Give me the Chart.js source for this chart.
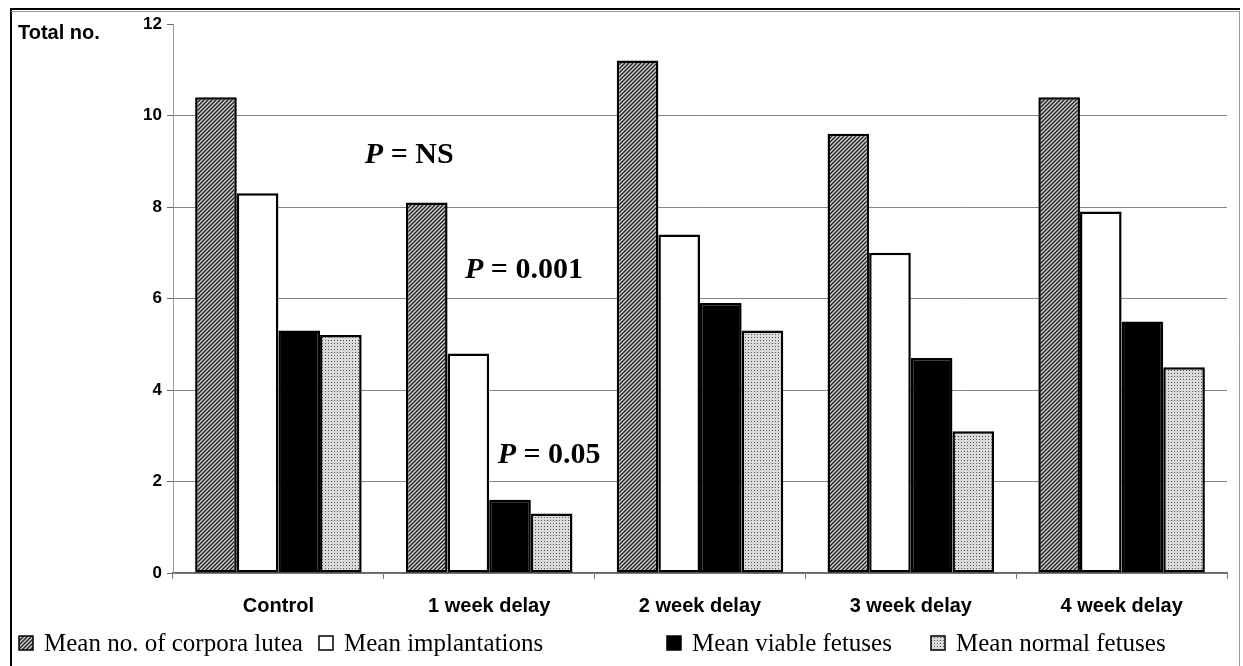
<!DOCTYPE html>
<html lang="en">
<head>
    <meta charset="UTF-8">
    <script src="https://cdn.jsdelivr.net/npm/chart.js@4.4.0/dist/chart.umd.min.js"></script>
    <title>Total no. per delay group</title>
    <style type="text/css">
        body { margin: 0; background: #fff; }
    </style>
</head>
<body>
    <canvas id="barCanvas" width="1243" height="666"></canvas>
</body>
<script>

// data
const categories = ['Control', '1 week delay', '2 week delay', '3 week delay', '4 week delay'];
const seriesLabels = ['Mean no. of corpora lutea', 'Mean implantations', 'Mean viable fetuses', 'Mean normal fetuses'];
const corporaLutea = [10.4, 8.1, 11.2, 9.6, 10.4];
const implantations = [8.3, 4.8, 7.4, 7.0, 7.9];
const viableFetuses = [5.3, 1.6, 5.9, 4.7, 5.5];
const normalFetuses = [5.2, 1.3, 5.3, 3.1, 4.5];
const yMin = 0, yMax = 12, yStep = 2;
const yTitle = 'Total no.';
const pValues = ['NS', '0.001', '0.05'];

const SANS = '"Liberation Sans", Arial, sans-serif';
const SERIF = '"Liberation Serif", "Times New Roman", serif';

function makeHatch() {
    const c = document.createElement('canvas');
    c.width = 4; c.height = 4;
    const g = c.getContext('2d');
    g.fillStyle = '#d0d0d0';
    g.fillRect(0, 0, 4, 4);
    g.strokeStyle = '#222';
    g.lineWidth = 1.4;
    g.beginPath();
    g.moveTo(0, 4); g.lineTo(4, 0);
    g.moveTo(-1, 1); g.lineTo(1, -1);
    g.moveTo(3, 5); g.lineTo(5, 3);
    g.stroke();
    return g.createPattern(c, 'repeat');
}

function makeDots() {
    const c = document.createElement('canvas');
    c.width = 3; c.height = 3;
    const g = c.getContext('2d');
    g.fillStyle = '#dadada';
    g.fillRect(0, 0, 3, 3);
    g.fillStyle = '#555';
    g.fillRect(1, 1, 1, 1);
    return g.createPattern(c, 'repeat');
}

const fills = [makeHatch(), '#ffffff', '#000000', makeDots()];
const seriesData = [corporaLutea, implantations, viableFetuses, normalFetuses];

// frame, y title, P labels and the legend row
const decorPlugin = {
    id: 'decor',
    beforeDraw(chart) {
        const ctx = chart.ctx;
        ctx.save();
        ctx.fillStyle = '#fff';
        ctx.fillRect(0, 0, chart.width, chart.height);
        ctx.strokeStyle = '#000';
        ctx.lineWidth = 2;
        ctx.beginPath();
        ctx.moveTo(11, 666); ctx.lineTo(11, 9); ctx.lineTo(1240, 9);
        ctx.stroke();
        ctx.strokeStyle = '#999';
        ctx.lineWidth = 1;
        ctx.beginPath();
        ctx.moveTo(11, 11.5); ctx.lineTo(1239, 11.5);
        ctx.moveTo(1239.5, 11); ctx.lineTo(1239.5, 666);
        ctx.stroke();
        ctx.restore();
    },
    afterDraw(chart) {
        const ctx = chart.ctx;
        const x = chart.scales.x, y = chart.scales.y;
        ctx.save();
        ctx.fillStyle = '#000';
        ctx.textBaseline = 'middle';
        ctx.font = 'bold 20px ' + SANS;
        ctx.fillText(yTitle, 18, 33);

        // P labels, placed in category / value units
        const spots = [[0.41, 9.14], [0.885, 6.62], [1.04, 2.58]];
        pValues.forEach((v, i) => {
            let px = x.getPixelForValue(spots[i][0]);
            const py = y.getPixelForValue(spots[i][1]);
            ctx.font = 'italic bold 30px ' + SERIF;
            ctx.fillText('P', px, py);
            px += ctx.measureText('P').width;
            ctx.font = 'bold 30px ' + SERIF;
            ctx.fillText(' = ' + v, px, py);
        });

        // legend
        const boxX = [19, 319, 667, 931];
        const ly = 643;
        chart.data.datasets.forEach((ds, i) => {
            ctx.fillStyle = ds.backgroundColor;
            ctx.fillRect(boxX[i], ly - 7, 14, 14);
            ctx.strokeStyle = '#000';
            ctx.lineWidth = 1.5;
            ctx.strokeRect(boxX[i], ly - 7, 14, 14);
            ctx.fillStyle = '#000';
            ctx.font = '25px ' + SERIF;
            ctx.fillText(ds.label, boxX[i] + 25, ly + 1);
        });
        ctx.restore();
    }
};

const chart = new Chart(document.getElementById('barCanvas'), {
    type: 'bar',
    data: {
        labels: categories,
        datasets: seriesLabels.map((lab, i) => ({
            label: lab,
            data: seriesData[i],
            backgroundColor: fills[i],
            borderColor: '#000',
            borderWidth: 2.5,
            borderSkipped: false,
            categoryPercentage: 0.79,
            barPercentage: 1.0
        }))
    },
    options: {
        responsive: false,
        animation: false,
        layout: { padding: { left: 0, right: 16, top: 24, bottom: 0 } },
        plugins: {
            legend: { display: false },
            tooltip: { enabled: false }
        },
        scales: {
            x: {
                grid: {
                    offset: true,
                    drawOnChartArea: false,
                    tickLength: 6,
                    tickColor: '#777'
                },
                border: { color: '#666', width: 1.5 },
                ticks: {
                    color: '#000',
                    padding: 15,
                    font: { family: SANS, size: 20, weight: 'bold' }
                },
                afterFit(s) { s.height = 93; }
            },
            y: {
                min: yMin,
                max: yMax,
                grid: {
                    color: c => (c.tick && c.tick.value === yMax) ? 'rgba(0,0,0,0)' : '#848484',
                    lineWidth: 1,
                    tickLength: 6,
                    tickColor: '#666'
                },
                border: { color: '#999', width: 1 },
                ticks: {
                    stepSize: yStep,
                    color: '#000',
                    padding: 5,
                    font: { family: SANS, size: 17, weight: 'bold' }
                },
                afterFit(s) { s.width = 173; }
            }
        }
    },
    plugins: [decorPlugin]
});

</script>
</html>
